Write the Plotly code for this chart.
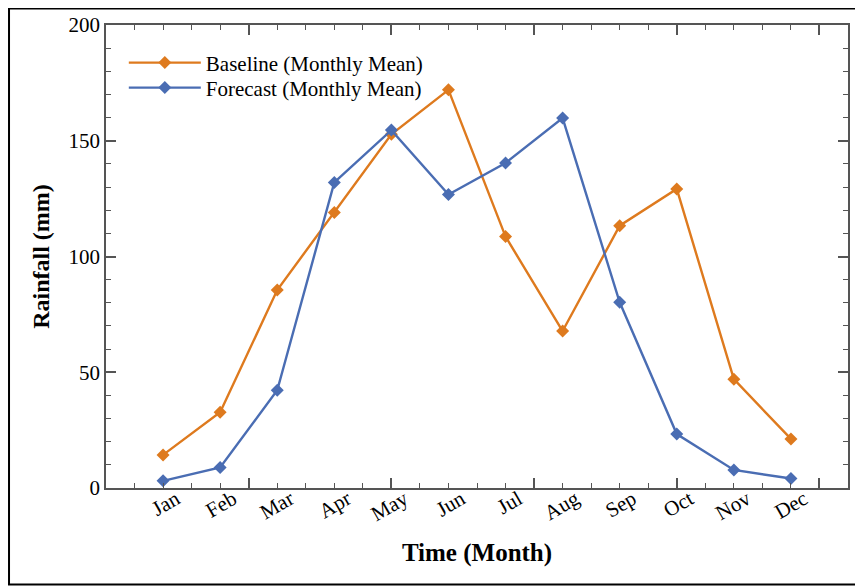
import plotly.graph_objects as go

months = ["Jan", "Feb", "Mar", "Apr", "May", "Jun", "Jul", "Aug", "Sep", "Oct", "Nov", "Dec"]
month_pos = [1, 2, 3, 4, 5, 6, 7, 8, 9, 10, 11, 12]
baseline = [14.3, 32.7, 85.5, 119.0, 152.8, 172.0, 108.6, 67.8, 113.3, 129.2, 47.0, 21.2]
forecast = [3.1, 8.9, 42.2, 132.0, 154.6, 126.8, 140.4, 159.8, 80.2, 23.3, 7.8, 4.1]

ORANGE = "#DE7A1E"
BLUE = "#4A6DB3"
FONT = "Liberation Serif"
AXC = "#555555"

fig = go.Figure()
fig.add_trace(go.Scatter(x=month_pos, y=baseline, mode="lines+markers",
                         name="Baseline (Monthly Mean)", legend="legend",
                         line=dict(color=ORANGE, width=2.4),
                         marker=dict(symbol="diamond", size=10, color=ORANGE)))
fig.add_trace(go.Scatter(x=month_pos, y=forecast, mode="lines+markers",
                         name="Forecast (Monthly Mean)", legend="legend2",
                         line=dict(color=BLUE, width=2.4),
                         marker=dict(symbol="diamond", size=10, color=BLUE)))
# invisible traces to carry the extra overlay axes (month labels, major ticks)
fig.add_trace(go.Scatter(x=[0, 13], y=[0, 0], xaxis="x2", mode="markers",
                         marker=dict(opacity=0), showlegend=False, hoverinfo="skip"))
fig.add_trace(go.Scatter(x=[0, 13], y=[0, 0], xaxis="x3", mode="markers",
                         marker=dict(opacity=0), showlegend=False, hoverinfo="skip"))

leg_common = dict(x=0.024, xanchor="left", yanchor="middle",
                  bgcolor="rgba(0,0,0,0)", font=dict(family=FONT, size=21),
                  itemwidth=72)

fig.update_layout(
    width=855, height=578,
    margin=dict(l=98, r=15, t=17, b=98, autoexpand=False),
    paper_bgcolor="white", plot_bgcolor="white",
    font=dict(family=FONT, size=18, color="black"),
    showlegend=True,
    legend=dict(y=0.918, **leg_common),
    legend2=dict(y=0.864, **leg_common),
    # half-month (minor) tick marks + frame
    xaxis=dict(range=[0, 13], showticklabels=False, ticks="inside", tick0=0, dtick=0.5,
               ticklen=5, tickwidth=1.2, tickcolor=AXC, mirror="ticks",
               showgrid=False, zeroline=False, showline=True, linecolor=AXC,
               linewidth=1.5, automargin=False),
    # major tick marks
    xaxis3=dict(range=[0, 13], overlaying="x", side="bottom", anchor="y",
                showticklabels=False, ticks="inside", tick0=0, dtick=2.5,
                ticklen=10, tickwidth=1.5, tickcolor=AXC, mirror="ticks",
                showgrid=False, zeroline=False, showline=False, automargin=False),
    # month labels
    xaxis2=dict(range=[0, 13], overlaying="x", side="bottom", anchor="y",
                tickvals=month_pos, ticktext=months, automargin=False,
                tickangle=-30, ticks="", showgrid=False, zeroline=False,
                showline=False,
                tickfont=dict(family=FONT, size=21), ticklabelshift=13,
                ticklabelstandoff=-6,
                title=dict(text="<b>Time (Month)</b>", font=dict(family=FONT, size=25),
                           standoff=18)),
    yaxis=dict(range=[0, 200], tick0=0, dtick=50, ticks="inside", ticklen=10,
               tickwidth=1.5, tickcolor=AXC, showgrid=False, zeroline=False,
               showline=True, linecolor=AXC, linewidth=1.5, mirror="ticks",
               automargin=False,
               tickfont=dict(family=FONT, size=21),
               minor=dict(ticks="inside", dtick=10, ticklen=5, tickwidth=1.2,
                          tickcolor=AXC, showgrid=False),
               title=dict(text="<b>Rainfall (mm)</b>", font=dict(family=FONT, size=24),
                          standoff=12)),
    shapes=[dict(type="rect", xref="paper", yref="paper",
                 x0=-0.1307, x1=1.2, y0=-0.2085, y1=1.0356,
                 line=dict(color="black", width=2), fillcolor="rgba(0,0,0,0)",
                 layer="below")],
)

fig.write_html("out.html")
